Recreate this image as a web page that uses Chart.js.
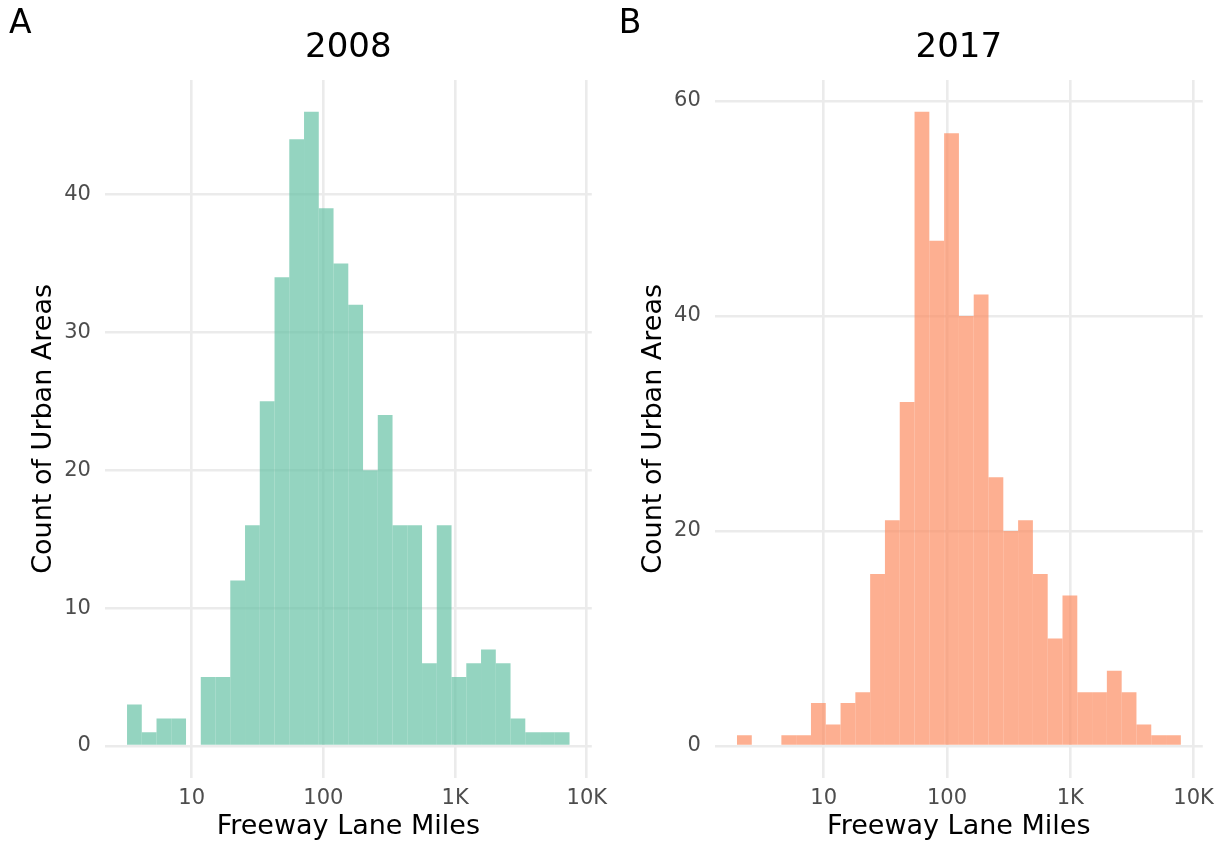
<!DOCTYPE html>
<html>
<head>
<meta charset="utf-8">
<title>Freeway Lane Miles 2008 / 2017</title>
<script src="https://cdn.jsdelivr.net/npm/chart.js@4.4.1/dist/chart.umd.min.js"></script>
<style>
  html, body { margin: 0; padding: 0; background: #fff; }
  #wrap { position: relative; width: 1225px; height: 843px; }
  canvas { position: absolute; top: 0; }
  #chart2008 { left: 0; }
  #chart2017 { left: 612px; }
</style>
</head>
<body>
<div id="wrap">
  <canvas id="chart2008" width="612" height="843"></canvas>
  <canvas id="chart2017" width="613" height="843"></canvas>
</div>
<script>
// bin centres, in log10(lane miles) -- ggplot histogram, 30 bins on a log scale
var binMid2008 = [0.565, 0.677, 0.789, 0.901, 1.013, 1.125, 1.237, 1.349, 1.461, 1.573,
                  1.685, 1.797, 1.909, 2.021, 2.133, 2.245, 2.357, 2.469, 2.581, 2.693,
                  2.805, 2.917, 3.029, 3.141, 3.253, 3.365, 3.477, 3.589, 3.701, 3.813];
var count2008 = [3, 1, 2, 2, 0, 5, 5, 12, 16, 25,
                 34, 44, 46, 39, 35, 32, 20, 24, 16, 16,
                 6, 16, 5, 6, 7, 6, 2, 1, 1, 1];

var binMid2017 = [0.357, 0.477, 0.597, 0.717, 0.837, 0.957, 1.077, 1.197, 1.317, 1.437,
                  1.557, 1.677, 1.797, 1.917, 2.037, 2.157, 2.277, 2.397, 2.517, 2.637,
                  2.757, 2.877, 2.997, 3.117, 3.237, 3.357, 3.477, 3.597, 3.717, 3.837];
var count2017 = [1, 0, 0, 1, 1, 4, 2, 4, 5, 16,
                 21, 32, 59, 47, 57, 40, 42, 25, 20, 21,
                 16, 10, 14, 5, 5, 7, 5, 2, 1, 1];

// x ticks (log10 position) and their labels
var xTickPos = [1, 2, 3, 4];
var xTickText = ["10", "100", "1K", "10K"];
var yTicks2008 = [0, 10, 20, 30, 40];
var yTicks2017 = [0, 20, 40, 60];

var FONT = "'DejaVu Sans', 'Noto Sans', sans-serif";
Chart.defaults.font.family = FONT;

// panel tag "A" / "B"
var tagPlugin = {
    id: 'tag',
    afterDraw: function (chart, args, opts) {
        var ctx = chart.ctx;
        ctx.save();
        ctx.font = "33px " + FONT;
        ctx.fillStyle = "#000";
        ctx.textAlign = "left";
        ctx.textBaseline = "alphabetic";
        ctx.fillText(opts.text, opts.x, opts.y);
        ctx.restore();
    }
};

function makeHist(canvasId, cfg) {
    var canvas = document.getElementById(canvasId);
    var points = [];
    for (var i = 0; i < cfg.mids.length; i++) {
        points.push({ x: cfg.mids[i], y: cfg.counts[i] });
    }

    return new Chart(canvas, {
        type: "bar",
        data: {
            datasets: [{
                data: points,
                backgroundColor: cfg.color,
                borderWidth: 0,
                inflateAmount: 0,
                barPercentage: 1,
                categoryPercentage: 1
            }]
        },
        plugins: [tagPlugin],
        options: {
            responsive: false,
            animation: false,
            layout: { padding: { left: 0, right: cfg.padRight, top: 0, bottom: 0 } },
            plugins: {
                legend: { display: false },
                tooltip: { enabled: false },
                title: {
                    display: true,
                    fullSize: false,   // centre over the plot area, like ggplot
                    text: cfg.title,
                    color: "#000",
                    font: { size: 34, weight: "normal", lineHeight: 1.2 },
                    padding: { top: 28, bottom: 11.2 }
                },
                tag: { text: cfg.tag, x: cfg.tagX, y: 33 }
            },
            scales: {
                x: {
                    type: "linear",
                    offset: false,
                    min: cfg.xMin,
                    max: cfg.xMax,
                    afterBuildTicks: function (scale) {
                        scale.ticks = xTickPos.map(function (v) { return { value: v }; });
                    },
                    afterFit: function (scale) {
                        scale.height = 65.3;
                        scale.paddingLeft = 0;
                        scale.paddingRight = 0;
                    },
                    ticks: {
                        autoSkip: false,
                        maxRotation: 0,
                        padding: 8,
                        color: "#4d4d4d",
                        font: { size: 21 },
                        callback: function (v, idx) { return xTickText[idx]; }
                    },
                    grid: { offset: false, color: "#ebebeb", lineWidth: 2.6, drawTicks: false },
                    border: { display: false },
                    title: {
                        display: true,
                        text: "Freeway Lane Miles",
                        color: "#000",
                        font: { size: 27 },
                        padding: { top: 0, bottom: 0 }
                    }
                },
                y: {
                    min: cfg.yMin,
                    max: cfg.yMax,
                    afterBuildTicks: function (scale) {
                        scale.ticks = cfg.yTicks.map(function (v) { return { value: v }; });
                    },
                    afterFit: function (scale) {
                        scale.width = cfg.yWidth;
                        scale.paddingTop = 0;
                        scale.paddingBottom = 0;
                    },
                    ticks: {
                        padding: 14,
                        color: "#4d4d4d",
                        font: { size: 21 }
                    },
                    grid: { color: "#ebebeb", lineWidth: 2.6, drawTicks: false },
                    border: { display: false },
                    title: {
                        display: true,
                        text: "Count of Urban Areas",
                        color: "#000",
                        font: { size: 27 },
                        padding: { top: cfg.yTitlePad, bottom: 0 }
                    }
                }
            }
        }
    });
}

var chart2008 = makeHist("chart2008", {
    mids: binMid2008, counts: count2008,
    color: "rgba(102,194,165,0.7)",
    title: "2008", tag: "A", tagX: 9,
    xMin: 0.341, xMax: 4.038,
    yMin: -2.3, yMax: 48.3, yTicks: yTicks2008,
    yWidth: 104.9, padRight: 20.2, yTitlePad: 27.8
});

var chart2017 = makeHist("chart2017", {
    mids: binMid2017, counts: count2017,
    color: "rgba(252,141,98,0.7)",
    title: "2017", tag: "B", tagX: 6.7,
    xMin: 0.117, xMax: 4.075,
    yMin: -2.95, yMax: 61.95, yTicks: yTicks2017,
    yWidth: 102.8, padRight: 22.2, yTitlePad: 25.7
});
</script>
</body>
</html>
